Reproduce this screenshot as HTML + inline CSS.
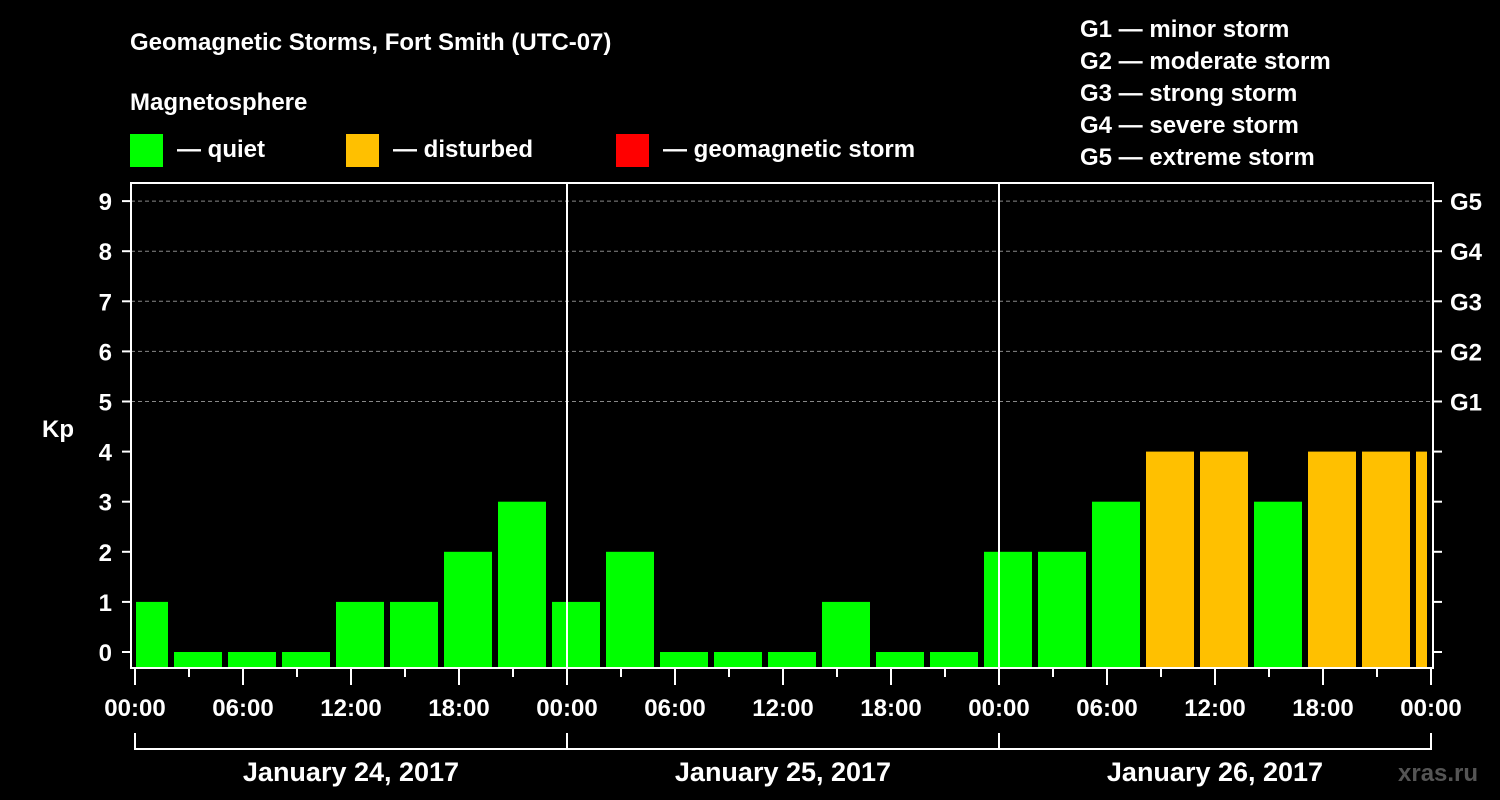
<!DOCTYPE html>
<html><head><meta charset="utf-8"><style>
html,body{margin:0;background:#000;}
svg{display:block;font-family:"Liberation Sans",sans-serif;font-weight:bold;}
</style></head><body>
<svg id="chart" width="1500" height="800">
<text x="130" y="50" fill="#fff" font-size="24">Geomagnetic Storms, Fort Smith (UTC-07)</text>
<text x="130" y="110" fill="#fff" font-size="24">Magnetosphere</text>
<g><rect x="130" y="134" width="33" height="33" fill="#00ff00"/><text x="177" y="157" fill="#fff" font-size="24">— quiet</text></g>
<g><rect x="346" y="134" width="33" height="33" fill="#ffc000"/><text x="393" y="157" fill="#fff" font-size="24">— disturbed</text></g>
<g><rect x="616" y="134" width="33" height="33" fill="#ff0000"/><text x="663" y="157" fill="#fff" font-size="24">— geomagnetic storm</text></g>
<g fill="#fff" font-size="24">
<text x="1080" y="37">G1 — minor storm</text>
<text x="1080" y="69">G2 — moderate storm</text>
<text x="1080" y="101">G3 — strong storm</text>
<text x="1080" y="133">G4 — severe storm</text>
<text x="1080" y="165">G5 — extreme storm</text>
</g>
<text x="42" y="437" fill="#fff" font-size="24">Kp</text>
<text x="1398" y="781" fill="#555" font-size="24">xras.ru</text>
<g id="grid"></g><g id="bars"></g><g id="axes"></g>
</svg>
<script>
const kpValues=[1,0,0,0,1,1,2,3,1,2,0,0,0,1,0,0,2,2,3,4,4,3,4,4,4];
const slotStartHour=-1;
const yTicks=[0,1,2,3,4,5,6,7,8,9];
const gLabels=["G1","G2","G3","G4","G5"];
const xTickLabels=["00:00","06:00","12:00","18:00","00:00","06:00","12:00","18:00","00:00","06:00","12:00","18:00","00:00"];
const dayLabels=["January 24, 2017","January 25, 2017","January 26, 2017"];
const NS="http://www.w3.org/2000/svg";
const X0=135,PXH=18,Y0=652,PXK=50.1,L=131,R=1433,T=183,B=668;
const xs=h=>X0+h*PXH, ys=k=>Y0-k*PXK;
function mk(tag,attrs,parent,txt){const e=document.createElementNS(NS,tag);for(const k in attrs)e.setAttribute(k,attrs[k]);if(txt!==undefined)e.textContent=txt;document.getElementById(parent).appendChild(e);return e;}
// grid
for(let k=5;k<=9;k++){const e=mk('line',{x1:L,x2:R,y1:ys(k),y2:ys(k),stroke:'#888','stroke-dasharray':'4,3'},'grid');

}
// bars
kpValues.forEach((v,i)=>{let h0=slotStartHour+i*3,h1=h0+3;let x0=Math.max(xs(h0)+3,X0+1),x1=Math.min(xs(h1)-3,xs(72)-4);
const e=mk('rect',{x:x0,y:ys(v),width:x1-x0,height:B-ys(v),fill:v>=5?'#ff0000':v>=4?'#ffc000':'#00ff00'},'bars');

});
// frame
const f=mk('rect',{x:L,y:T,width:R-L,height:B-T,fill:'none',stroke:'#fff','stroke-width':2},'axes');


[24,48].forEach(h=>{const e=mk('line',{x1:xs(h),x2:xs(h),y1:T,y2:B,stroke:'#fff','stroke-width':2},'axes');

});
yTicks.forEach(k=>{mk('line',{x1:122,x2:L,y1:ys(k),y2:ys(k),stroke:'#fff','stroke-width':2},'axes');
mk('line',{x1:R,x2:R+9,y1:ys(k),y2:ys(k),stroke:'#fff','stroke-width':2},'axes');
const t=mk('text',{x:112,y:ys(k)+9,fill:'#fff','font-size':24,'text-anchor':'end'},'axes',k);

});
gLabels.forEach((g,i)=>{const t=mk('text',{x:1450,y:ys(5+i)+9,fill:'#fff','font-size':24},'axes',g);

});
for(let h=0;h<=72;h+=3){mk('line',{x1:xs(h),x2:xs(h),y1:B,y2:h%6==0?685:677,stroke:'#fff','stroke-width':2},'axes');}
xTickLabels.forEach((s,i)=>{const t=mk('text',{x:xs(i*6),y:716,fill:'#fff','font-size':24,'text-anchor':'middle'},'axes',s);

});
mk('path',{d:`M${xs(0)},733V749H${xs(72)}V733M${xs(24)},733V749M${xs(48)},733V749`,fill:'none',stroke:'#fff','stroke-width':2},'axes');
dayLabels.forEach((s,i)=>{const t=mk('text',{x:xs(i*24+12),y:781,fill:'#fff','font-size':27,'text-anchor':'middle'},'axes',s);

});
</script>
</body></html>
